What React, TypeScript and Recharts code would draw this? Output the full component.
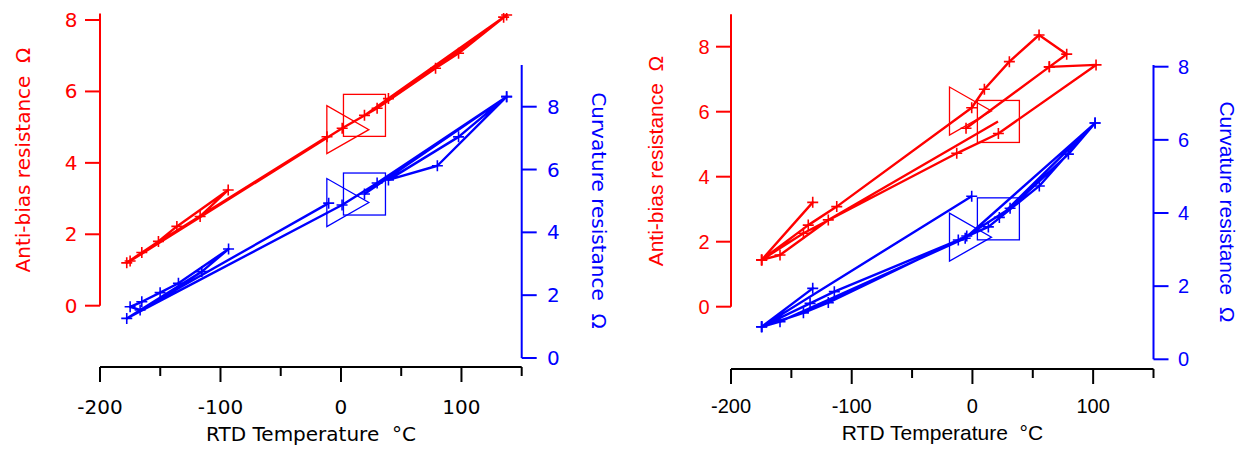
import React from 'react';
import { ComposedChart, Line, XAxis, YAxis, ReferenceLine } from 'recharts';

const RED = '#ff0000';
const BLUE = '#0000ff';

const tempTicks = [-200, -150, -100, -50, 0, 50, 100, 150];
const tempLabelTicks = [-200, -100, 0, 100];
const ohmTicks = [0, 2, 4, 6, 8];

// left panel sweeps (RTD °C -> Ω), in the order they were recorded
const leftRedTemp = [-11.6, -165.3, -177.8, -151.5, -136.2, -93.6, -116.9, -175, 1, 30, 78.5, 137.5, 97.6, 39.4, 135, 19.5];
const leftRedOhm = [4.73, 1.49, 1.2, 1.8, 2.22, 3.24, 2.5, 1.25, 4.97, 5.53, 6.65, 8.14, 7.07, 5.8, 8.08, 5.33];
const leftBlueTemp = [-10.2, -166.7, -175, -165.3, -150.1, -134.9, -93.3, -115.5, -177.8, 0.9, 30, 137.5, 97.6, 39.4, 80, 137.5, 19.5];
const leftBlueOhm = [4.93, 1.53, 1.63, 1.79, 2.08, 2.38, 3.47, 2.75, 1.26, 4.87, 5.57, 8.32, 7.04, 5.67, 6.12, 8.32, 5.22];

// start (triangle) / end (square) markers
const leftStartTemp = [5.7];
const leftStartRed = [4.93];
const leftStartBlue = [4.95];
const leftEndTemp = [19.5];
const leftEndRed = [5.33];
const leftEndBlue = [5.22];

// right panel sweeps
const rightRedTemp = [21.2, -119.4, -159.4, -174.6, -132.3, -174.6, -136, -112.4, -0.6, 9.9, 30.6, 55.2, 78.1, 63.7, -5.3, 63.7, 102.4, 21.5, -13, -140, -174.6];
const rightRedOhm = [5.7, 2.67, 1.59, 1.44, 3.21, 1.44, 2.51, 3.08, 6.12, 6.69, 7.54, 8.36, 7.77, 7.38, 5.49, 7.38, 7.44, 5.33, 4.72, 2.26, 1.44];
const rightBlueTemp = [-0.6, -174.6, -132.3, -174.6, -134.5, -114.4, -11.7, 13.2, 55.4, 101.6, 79.5, 31.2, -4.7, -119.4, -140, -174.6, -159.4, -6, 101.6, 22.3];
const rightBlueOhm = [4.46, 0.89, 1.94, 0.89, 1.53, 1.85, 3.26, 3.62, 4.74, 6.46, 5.61, 4.13, 3.37, 1.55, 1.27, 0.89, 1.03, 3.31, 6.46, 3.88];

const rightStartTemp = [-1.6];
const rightStartRed = [6.02];
const rightStartBlue = [3.34];
const rightEndTemp = [21.5];
const rightEndRed = [5.7];
const rightEndBlue = [3.84];

type Pt = { t: number; v: number };
const toPts = (temps: number[], vals: number[]): Pt[] => temps.map((t, i) => ({ t, v: vals[i] }));

const plusDot = (color: string, skipIndex = -1) => (p: any) => {
  const { cx, cy, index } = p;
  if (cx == null || cy == null || index === skipIndex) return <g key={`p${index}`} />;
  const a = 5.5;
  return (
    <path
      key={`p${index}`}
      d={`M${cx - a},${cy}H${cx + a}M${cx},${cy - a}V${cy + a}`}
      stroke={color}
      strokeWidth={1.6}
      fill="none"
    />
  );
};

const triangleDot = (color: string) => (p: any) => {
  const { cx, cy, index } = p;
  return (
    <path
      key={`t${index}`}
      d={`M${cx - 21},${cy - 24}L${cx - 21},${cy + 24}L${cx + 21},${cy}Z`}
      stroke={color}
      strokeWidth={1.3}
      fill="none"
    />
  );
};

const squareDot = (color: string) => (p: any) => {
  const { cx, cy, index } = p;
  return <rect key={`s${index}`} x={cx - 21} y={cy - 21} width={42} height={42} stroke={color} strokeWidth={1.3} fill="none" />;
};

const Title = (p: any) => (
  <text
    x={p.px}
    y={p.py}
    transform={`rotate(${p.rot} ${p.px} ${p.py})`}
    textAnchor="middle"
    fill={p.col}
    fontFamily={p.ff}
    fontSize={p.fs}
    style={{ whiteSpace: 'pre' }}
  >
    {p.txt}
  </text>
);

interface PanelSpec {
  left: number;
  width: number;
  plotTop: number;
  xAxisHeight: number;
  redWidth: number;
  blueWidth: number;
  redDomain: [number, number];
  blueDomain: [number, number];
  redAxisTop: number;
  blueAxisTop: number;
  font: string;
  tickFont: number;
  titleFont: number;
  xLabelDy: number;
  redGap: number;
  blueGap: number;
  redTitle: [number, number];
  blueTitle: [number, number];
  xTitle: [number, number];
  red: Pt[];
  blue: Pt[];
  startRed: Pt[];
  startBlue: Pt[];
  endRed: Pt[];
  endBlue: Pt[];
  redSkip: number;
}

function Panel({ s }: { s: PanelSpec }) {
  const XTick = (p: any) => {
    const v = p.payload.value;
    const major = tempLabelTicks.includes(v);
    return (
      <g>
        <line x1={p.x} x2={p.x} y1={p.y} y2={p.y + (major ? 15 : 9)} stroke="#000" strokeWidth={2} />
        {major && (
          <text x={p.x} y={p.y + s.xLabelDy} textAnchor="middle" fontFamily={s.font} fontSize={s.tickFont} fill="#000">
            {v}
          </text>
        )}
      </g>
    );
  };
  const RedTick = (p: any) => (
    <g>
      <line x1={p.x - 15} x2={p.x} y1={p.y} y2={p.y} stroke={RED} strokeWidth={2} />
      <text x={p.x - s.redGap} y={p.y + 7} textAnchor="end" fontFamily={s.font} fontSize={s.tickFont} fill={RED}>
        {p.payload.value}
      </text>
    </g>
  );
  const BlueTick = (p: any) => (
    <g>
      <line x1={p.x} x2={p.x + 15} y1={p.y} y2={p.y} stroke={BLUE} strokeWidth={2} />
      <text x={p.x + s.blueGap} y={p.y + 7} textAnchor="start" fontFamily={s.font} fontSize={s.tickFont} fill={BLUE}>
        {p.payload.value}
      </text>
    </g>
  );

  return (
    <div style={{ position: 'absolute', left: s.left, top: 0 }}>
      <ComposedChart width={s.width} height={450} margin={{ top: s.plotTop, right: 0, bottom: 0, left: 0 }}>
        <XAxis
          type="number"
          dataKey="t"
          domain={[-200, 150]}
          allowDataOverflow
          ticks={tempTicks}
          interval={0}
          height={s.xAxisHeight}
          tickLine={false}
          tickSize={0}
          tickMargin={0}
          axisLine={{ stroke: '#000', strokeWidth: 2 }}
          tick={(p: any) => <XTick {...p} />}
          label={
            <Title px={s.xTitle[0]} py={s.xTitle[1]} rot={0} col="#000" ff={s.font} fs={s.titleFont} txt="RTD Temperature  °C" />
          }
        />
        <YAxis
          yAxisId="red"
          orientation="left"
          width={s.redWidth}
          domain={s.redDomain}
          allowDataOverflow
          ticks={ohmTicks}
          interval={0}
          axisLine={false}
          tickLine={false}
          tickSize={0}
          tickMargin={0}
          tick={(p: any) => <RedTick {...p} />}
          label={
            <Title px={s.redTitle[0]} py={s.redTitle[1]} rot={-90} col={RED} ff={s.font} fs={s.titleFont} txt="Anti-bias resistance  Ω" />
          }
        />
        <YAxis
          yAxisId="blue"
          orientation="right"
          width={s.blueWidth}
          domain={s.blueDomain}
          allowDataOverflow
          ticks={ohmTicks}
          interval={0}
          axisLine={false}
          tickLine={false}
          tickSize={0}
          tickMargin={0}
          tick={(p: any) => <BlueTick {...p} />}
          label={
            <Title px={s.blueTitle[0]} py={s.blueTitle[1]} rot={90} col={BLUE} ff={s.font} fs={s.titleFont} txt="Curvature resistance  Ω" />
          }
        />
        <ReferenceLine
          yAxisId="red"
          segment={[{ x: -200, y: 0 }, { x: -200, y: s.redAxisTop }]}
          stroke={RED}
          strokeWidth={2}
          ifOverflow="visible"
        />
        <ReferenceLine
          yAxisId="blue"
          segment={[{ x: 150, y: 0 }, { x: 150, y: s.blueAxisTop }]}
          stroke={BLUE}
          strokeWidth={2}
          ifOverflow="visible"
        />
        <Line
          yAxisId="blue"
          data={s.blue}
          dataKey="v"
          type="linear"
          stroke={BLUE}
          strokeWidth={2.4}
          strokeLinejoin="round"
          dot={plusDot(BLUE)}
          activeDot={false}
          isAnimationActive={false}
        />
        <Line
          yAxisId="red"
          data={s.red}
          dataKey="v"
          type="linear"
          stroke={RED}
          strokeWidth={2.4}
          strokeLinejoin="round"
          dot={plusDot(RED, s.redSkip)}
          activeDot={false}
          isAnimationActive={false}
        />
        <Line yAxisId="red" data={s.startRed} dataKey="v" stroke="none" dot={triangleDot(RED)} activeDot={false} isAnimationActive={false} />
        <Line yAxisId="red" data={s.endRed} dataKey="v" stroke="none" dot={squareDot(RED)} activeDot={false} isAnimationActive={false} />
        <Line yAxisId="blue" data={s.startBlue} dataKey="v" stroke="none" dot={triangleDot(BLUE)} activeDot={false} isAnimationActive={false} />
        <Line yAxisId="blue" data={s.endBlue} dataKey="v" stroke="none" dot={squareDot(BLUE)} activeDot={false} isAnimationActive={false} />
      </ComposedChart>
    </div>
  );
}

const leftSpec: PanelSpec = {
  left: 0,
  width: 622,
  plotTop: 13,
  xAxisHeight: 83,
  redWidth: 100,
  blueWidth: 100.3,
  redDomain: [-1.7166, 8.1966],
  blueDomain: [-0.2865, 10.983],
  redAxisTop: 8.18,
  blueAxisTop: 9.33,
  font: 'DejaVu Sans',
  tickFont: 20,
  titleFont: 20,
  xLabelDy: 47,
  redGap: 22.5,
  blueGap: 25.2,
  redTitle: [30, 160],
  blueTitle: [592, 210.5],
  xTitle: [311, 441],
  red: toPts(leftRedTemp, leftRedOhm),
  blue: toPts(leftBlueTemp, leftBlueOhm),
  startRed: toPts(leftStartTemp, leftStartRed),
  startBlue: toPts(leftStartTemp, leftStartBlue),
  endRed: toPts(leftEndTemp, leftEndRed),
  endBlue: toPts(leftEndTemp, leftEndBlue),
  redSkip: -1,
};

const rightSpec: PanelSpec = {
  left: 622,
  width: 623,
  plotTop: 14,
  xAxisHeight: 81,
  redWidth: 109,
  blueWidth: 91.5,
  redDomain: [-1.917, 9.006],
  blueDomain: [-0.2652, 9.441],
  redAxisTop: 9.0,
  blueAxisTop: 8.05,
  font: 'Liberation Sans',
  tickFont: 20,
  titleFont: 21,
  xLabelDy: 44,
  redGap: 21.5,
  blueGap: 24.4,
  redTitle: [41, 161],
  blueTitle: [598, 212],
  xTitle: [320.5, 440],
  red: toPts(rightRedTemp, rightRedOhm),
  blue: toPts(rightBlueTemp, rightBlueOhm),
  startRed: toPts(rightStartTemp, rightStartRed),
  startBlue: toPts(rightStartTemp, rightStartBlue),
  endRed: toPts(rightEndTemp, rightEndRed),
  endBlue: toPts(rightEndTemp, rightEndBlue),
  redSkip: 0,
};

export default function App() {
  return (
    <div style={{ position: 'absolute', left: 0, top: 0, width: 1245, height: 450, background: '#fff' }}>
      <Panel s={leftSpec} />
      <Panel s={rightSpec} />
    </div>
  );
}
